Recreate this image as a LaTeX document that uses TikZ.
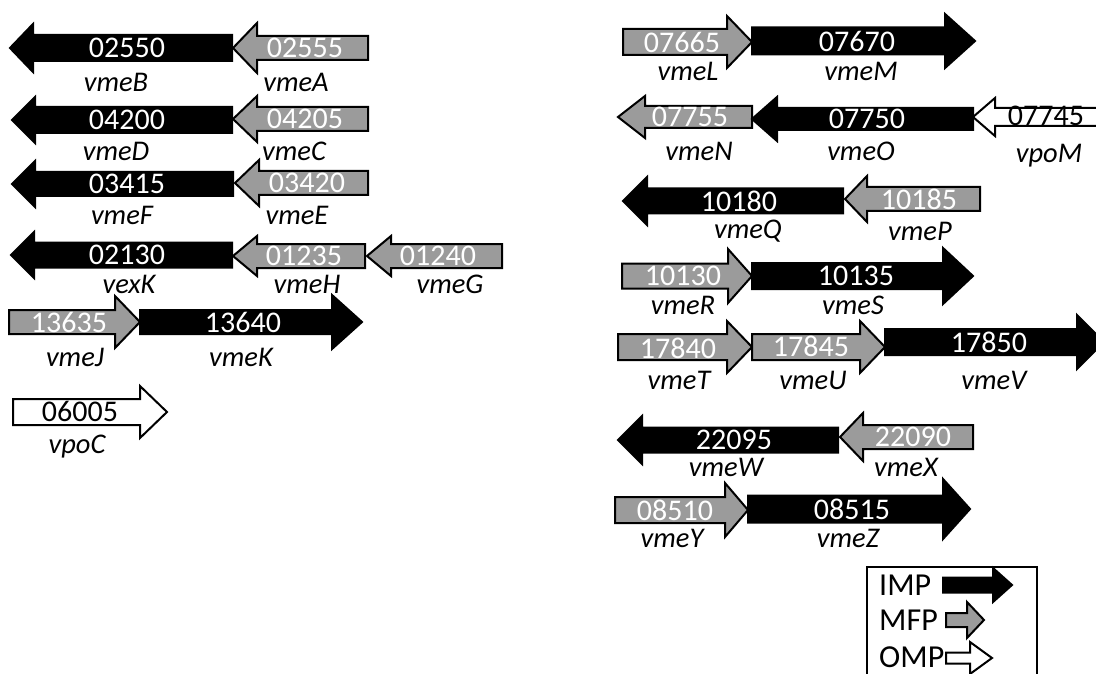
\documentclass[tikz,border=0pt]{standalone}
\usepackage{fontspec}
\setmainfont{Carlito}
\definecolor{mfp}{RGB}{155,155,155}
\newcommand\genearrow[7]{%
 \pgfmathsetmacro\gbase{#3>#2 ? #3-#5 : #3+#5}%
 \draw[#1] (#2,#4-#6) -- (\gbase,#4-#6) -- (\gbase,#4-#7) -- (#3,#4) -- (\gbase,#4+#7) -- (\gbase,#4+#6) -- (#2,#4+#6) -- cycle;}
\tikzset{
 imp/.style={fill=black,draw=black,line width=2pt,line join=miter},
 mfpa/.style={fill=mfp,draw=black,line width=2pt,line join=miter},
 omp/.style={fill=white,draw=black,line width=2pt,line join=miter},
 num/.style={text=white,font=\fontsize{30}{32}\selectfont,inner sep=0pt},
 numb/.style={text=black,font=\fontsize{30}{32}\selectfont,inner sep=0pt},
 lab/.style={text=black,font=\fontsize{28.5}{30}\selectfont\itshape,inner sep=0pt},
 leg/.style={text=black,font=\fontsize{32}{34}\selectfont,inner sep=0pt,anchor=west},
}
\begin{document}
\begin{tikzpicture}[x=1pt,y=-1pt]
\useasboundingbox (0,0) rectangle (1096,674);
\clip (0,0) rectangle (1096,674);
\fill[white] (0,0) rectangle (1096,674);
% ---- left column ----
\genearrow{imp}{232}{10}{48}{23}{13}{24}
\genearrow{mfpa}{368}{233}{48}{24}{12}{25}
\node[num] (n02550) at (127,48) {02550};
\node[num] (n02555) at (305,48) {02555};
\node[lab] (vmeB) at (116,82) {vmeB};
\node[lab] (vmeA) at (296,82) {vmeA};

\genearrow{imp}{232}{12}{120}{23}{13}{23}
\genearrow{mfpa}{368}{233}{119}{24}{12}{23}
\node[num] (n04200) at (127,120) {04200};
\node[num] (n04205) at (305,119) {04205};
\node[lab] (vmeD) at (116,151) {vmeD};
\node[lab] (vmeC) at (294,151) {vmeC};

\genearrow{imp}{233}{12}{184}{23}{12}{23}
\genearrow{mfpa}{368}{235}{183}{24}{12}{23}
\node[num] (n03415) at (127,184) {03415};
\node[num] (n03420) at (307,183) {03420};
\node[lab] (vmeF) at (122,215) {vmeF};
\node[lab] (vmeE) at (297,215) {vmeE};

\genearrow{imp}{232}{11}{255}{23}{12.5}{23}
\genearrow{mfpa}{365}{233}{256}{24}{12}{20}
\genearrow{mfpa}{502}{367}{256}{24}{12}{20}
\node[num] (n02130) at (127,255) {02130};
\node[num] (n01235) at (304,256) {01235};
\node[num] (n01240) at (438,256) {01240};
\node[lab] (vexK) at (129,284) {vexK};
\node[lab] (vmeH) at (307,284) {vmeH};
\node[lab] (vmeG) at (450,284) {vmeG};

\genearrow{mfpa}{9}{140}{322}{25}{12}{26}
\genearrow{imp}{140}{362}{322}{30}{12}{27}
\node[num] (n13635) at (69,322) {13635};
\node[num] (n13640) at (243,322) {13640};
\node[lab] (vmeJ) at (75,357) {vmeJ};
\node[lab] (vmeK) at (241,357) {vmeK};

\genearrow{omp}{13}{167}{412}{27}{13}{26}
\node[numb] (n06005) at (80,411) {06005};
\node[lab] (vpoC) at (77,447) {vpoC};
% ---- right column ----
\genearrow{mfpa}{623}{752}{42}{25}{13}{26}
\genearrow{imp}{752}{975}{41}{30}{13.5}{27}
\node[num] (n07665) at (682,42) {07665};
\node[num] (n07670) at (857,41) {07670};
\node[lab] (vmeL) at (688,71) {vmeL};
\node[lab] (vmeM) at (861,71) {vmeM};

\genearrow{mfpa}{752}{618}{117}{27}{11}{21}
\genearrow{imp}{973}{752}{119}{25}{11}{22}
\genearrow{omp}{1130}{973}{117}{22}{9}{19}
\node[num] (n07755) at (690,117) {07755};
\node[num] (n07750) at (867,119) {07750};
\node[numb] (n07745) at (1046,116) {07745};
\node[lab] (vmeN) at (699,151) {vmeN};
\node[lab] (vmeO) at (861,151) {vmeO};
\node[lab] (vpoM) at (1049,156) {vpoM};

\genearrow{imp}{843}{623}{201}{24}{12.5}{24}
\genearrow{mfpa}{980}{845}{199}{22}{12}{23}
\node[num] (n10180) at (739,201) {10180};
\node[num] (n10185) at (919,199) {10185};
\node[lab] (vmeQ) at (748,231) {vmeQ};
\node[lab] (vmeP) at (920,231) {vmeP};

\genearrow{mfpa}{622}{752}{276}{24}{12.5}{27}
\genearrow{imp}{752}{973}{276}{30}{13}{28}
\node[num] (n10130) at (683,276) {10130};
\node[num] (n10135) at (856,276) {10135};
\node[lab] (vmeR) at (683,305) {vmeR};
\node[lab] (vmeS) at (853,305) {vmeS};

\genearrow{mfpa}{618}{752}{347}{25}{13}{26}
\genearrow{mfpa}{752}{885}{347}{25}{13}{26}
\genearrow{imp}{885}{1104}{342}{27}{13}{27}
\node[num] (n17840) at (678,348) {17840};
\node[num] (n17845) at (811,346) {17845};
\node[num] (n17850) at (989,342) {17850};
\node[lab] (vmeT) at (679,380) {vmeT};
\node[lab] (vmeU) at (813,380) {vmeU};
\node[lab] (vmeV) at (994,380) {vmeV};

\genearrow{imp}{838}{618}{440}{24}{12.5}{24}
\genearrow{mfpa}{973}{840}{437}{23}{12}{24}
\node[num] (n22095) at (734,440) {22095};
\node[num] (n22090) at (913,437) {22090};
\node[lab] (vmeW) at (726,467) {vmeW};
\node[lab] (vmeX) at (906,467) {vmeX};

\genearrow{mfpa}{615}{748}{510}{23}{13}{27}
\genearrow{imp}{748}{970}{509}{27}{13.5}{30}
\node[num] (n08510) at (675,510) {08510};
\node[num] (n08515) at (852,509) {08515};
\node[lab] (vmeY) at (672,538) {vmeY};
\node[lab] (vmeZ) at (848,538) {vmeZ};
% ---- legend ----
\draw[line width=2pt] (867,567) rectangle (1037,700);
\node[leg] (limp) at (879,585) {IMP};
\node[leg] (lmfp) at (879,620) {MFP};
\node[leg] (lomp) at (879,657) {OMP};
\genearrow{imp}{943}{1012}{585}{19}{7.5}{17}
\genearrow{mfpa}{946}{984}{620}{17}{7}{18}
\genearrow{omp}{946}{992}{658}{22}{5.5}{16}
\end{tikzpicture}
\end{document}
